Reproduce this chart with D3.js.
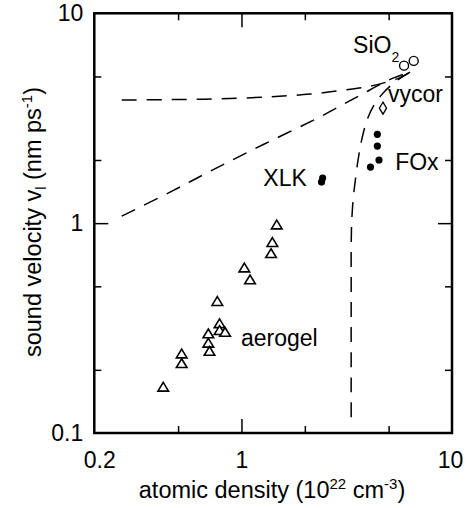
<!DOCTYPE html>
<html lang="en">
<head>
<meta charset="UTF-8">
<title>sound velocity vs atomic density</title>
<script src="https://cdn.jsdelivr.net/npm/d3@7"></script>
<style>
  body { margin: 0; background: #fff; }
  text { font-family: "Liberation Sans", Arial, Helvetica, sans-serif; fill: #000; }
</style>
</head>
<body>
<svg width="470" height="508"></svg>
<script>
// data (atomic density in 1e22 cm^-3, velocity in nm/ps)
var aerogelX = [0.425, 0.520, 0.520, 0.696, 0.696, 0.705, 0.768, 0.787, 0.787, 0.836, 1.032, 1.098, 1.382, 1.402, 1.471]
var aerogelY = [0.166, 0.239, 0.215, 0.298, 0.269, 0.246, 0.425, 0.333, 0.309, 0.303, 0.614, 0.539, 0.719, 0.812, 0.984]
var xlkX = [2.43, 2.40]
var xlkY = [1.64, 1.57]
var foxX = [4.42, 4.42, 4.50, 4.10]
var foxY = [2.65, 2.33, 2.00, 1.85]
var sio2X = [5.92, 6.58]
var sio2Y = [5.63, 5.93]
var vycorX = [4.70]
var vycorY = [3.53]

// dashed model curves
var curve1X = [0.270, 0.458, 0.791, 1.367, 2.12, 3.04, 4.08, 4.92, 5.67, 6.32]
var curve1Y = [3.86, 3.88, 3.91, 4.00, 4.12, 4.30, 4.49, 4.71, 4.94, 5.24]
var curve2X = [0.270, 0.458, 0.735, 1.27, 2.36, 3.66, 5.25, 6.32]
var curve2Y = [1.08, 1.405, 1.80, 2.37, 3.21, 4.07, 4.91, 5.24]
var curve3X = [3.32, 3.32, 3.33, 3.39, 3.46, 3.58, 3.74, 3.95, 4.26, 4.70, 5.36, 6.32]
var curve3Y = [0.119, 0.43, 0.93, 1.29, 1.55, 2.0, 2.54, 3.10, 3.65, 4.16, 4.70, 5.24]

var xTickLabels = [0.2, 1, 10]
var yTickLabels = [0.1, 1, 10]
var majorTicks = [1]
var minorTicks = [0.2, 0.5, 2, 5]

var labelText = ["aerogel", "XLK", "FOx", "vycor"]
var labelX = [0.995, 1.27, 5.37, 4.97]
var labelY = [0.2595, 1.50, 1.79, 3.78]

var svg = d3.select("svg")
// note: "top" is a reserved window prop, so use a margin object
var m = { left: 94.3, right: 452, top: 13.3, bottom: 433 }

var x = d3.scaleLog().domain([0.2, 10]).range([m.left, m.right])
var y = d3.scaleLog().domain([0.1, 10]).range([m.bottom, m.top])

function zip(a, b) { return a.map(function (v, i) { return [v, b[i]] }) }

// ticks, all pointing inward, on all four sides
function tickAxis(axis, values, len, tr) {
  var g = svg.append("g").attr("transform", tr)
    .call(axis.tickValues(values).tickSize(-len).tickFormat(""))
  g.select(".domain").remove()
  g.selectAll("line").attr("stroke", "#000").attr("stroke-width", 1.5)
}
var xMinor = minorTicks.filter(function (v) { return v > 0.2 })
tickAxis(d3.axisBottom(x), majorTicks, 14, `translate(0,${m.bottom})`)
tickAxis(d3.axisBottom(x), xMinor, 7, `translate(0,${m.bottom})`)
tickAxis(d3.axisTop(x), majorTicks, 14, `translate(0,${m.top})`)
tickAxis(d3.axisTop(x), xMinor, 7, `translate(0,${m.top})`)
tickAxis(d3.axisLeft(y), majorTicks, 14, `translate(${m.left},0)`)
tickAxis(d3.axisLeft(y), minorTicks, 7, `translate(${m.left},0)`)
tickAxis(d3.axisRight(y), majorTicks, 14, `translate(${m.right},0)`)
tickAxis(d3.axisRight(y), minorTicks, 7, `translate(${m.right},0)`)

// tick labels
var fmt = function (d) { return String(d) }
var gx = svg.append("g").attr("transform", `translate(0,${m.bottom})`)
  .call(d3.axisBottom(x).tickValues(xTickLabels).tickSize(0).tickPadding(19).tickFormat(fmt))
gx.select(".domain").remove()
gx.selectAll("text").attr("font-size", 23).attr("font-family", null)
  .attr("dx", function (d, i) { return i === 0 ? 5 : (i === 2 ? -2 : 0) })
var gy = svg.append("g").attr("transform", `translate(${m.left},0)`)
  .call(d3.axisLeft(y).tickValues(yTickLabels).tickSize(0).tickPadding(11).tickFormat(fmt))
gy.select(".domain").remove()
gy.selectAll("text").attr("font-size", 23).attr("font-family", null)

// frame
svg.append("rect").attr("x", m.left).attr("y", m.top)
  .attr("width", m.right - m.left).attr("height", m.bottom - m.top)
  .attr("fill", "none").attr("stroke", "#000").attr("stroke-width", 2.5)

// dashed curves
var line = d3.line().x(function (d) { return x(d[0]) }).y(function (d) { return y(d[1]) })
  .curve(d3.curveCatmullRom)
;[zip(curve1X, curve1Y), zip(curve2X, curve2Y), zip(curve3X, curve3Y)].forEach(function (c) {
  svg.append("path").attr("d", line(c)).attr("fill", "none")
    .attr("stroke", "#000").attr("stroke-width", 1.5).attr("stroke-dasharray", "15,10")
})

// aerogel triangles
svg.append("g").selectAll("path").data(zip(aerogelX, aerogelY)).enter().append("path")
  .attr("d", "M0,-4.5L5.3,4.3L-5.3,4.3Z")
  .attr("transform", function (d) { return `translate(${x(d[0])},${y(d[1])})` })
  .attr("fill", "white").attr("stroke", "#000").attr("stroke-width", 1.6)

// XLK and FOx filled dots
svg.append("g").selectAll("circle").data(zip(xlkX, xlkY).concat(zip(foxX, foxY))).enter().append("circle")
  .attr("cx", function (d) { return x(d[0]) }).attr("cy", function (d) { return y(d[1]) })
  .attr("r", 3.6).attr("fill", "#000")

// SiO2 open circles
svg.append("g").selectAll("circle").data(zip(sio2X, sio2Y)).enter().append("circle")
  .attr("cx", function (d) { return x(d[0]) }).attr("cy", function (d) { return y(d[1]) })
  .attr("r", 4.5).attr("fill", "white").attr("stroke", "#000").attr("stroke-width", 1.4)

// vycor diamond
svg.append("g").selectAll("path").data(zip(vycorX, vycorY)).enter().append("path")
  .attr("d", "M0,-6L3.6,0L0,6L-3.6,0Z")
  .attr("transform", function (d) { return `translate(${x(d[0])},${y(d[1])})` })
  .attr("fill", "white").attr("stroke", "#000").attr("stroke-width", 1.3)

// labels
labelText.forEach(function (t, i) {
  svg.append("text").attr("x", x(labelX[i])).attr("y", y(labelY[i]))
    .attr("font-size", 23).text(t)
})
var sio = svg.append("text").attr("x", x(3.39)).attr("y", y(6.45)).attr("font-size", 23)
sio.append("tspan").text("SiO")
sio.append("tspan").attr("font-size", 14).attr("dy", 9).text("2")

// axis titles
var xt = svg.append("text").attr("x", 272).attr("y", 498).attr("text-anchor", "middle").attr("font-size", 23.5)
xt.append("tspan").text("atomic density (10")
xt.append("tspan").attr("font-size", 15).attr("dy", -9).text("22")
xt.append("tspan").attr("dy", 9).text(" cm")
xt.append("tspan").attr("font-size", 15).attr("dy", -9).text("-3")
xt.append("tspan").attr("dy", 9).text(")")

var yt = svg.append("text").attr("transform", "translate(41,222) rotate(-90)")
  .attr("text-anchor", "middle").attr("font-size", 23.5)
yt.append("tspan").text("sound velocity v")
yt.append("tspan").attr("font-size", 15).attr("dy", 5).text("l")
yt.append("tspan").attr("dy", -5).text(" (nm ps")
yt.append("tspan").attr("font-size", 15).attr("dy", -9).text("-1")
yt.append("tspan").attr("dy", 9).text(")")
</script>
</body>
</html>
